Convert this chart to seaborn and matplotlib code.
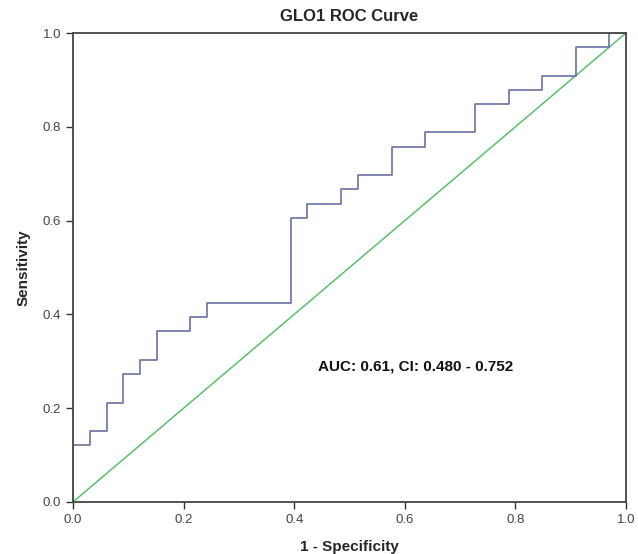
import matplotlib
matplotlib.use("Agg")
import matplotlib.pyplot as plt
import seaborn as sns
import pandas as pd

# ROC step vertices (1 - specificity, sensitivity)
fpr = [0.0, 0.0, 0.030, 0.061, 0.091, 0.121, 0.152, 0.212, 0.242, 0.394, 0.424,
       0.485, 0.515, 0.576, 0.636, 0.727, 0.788, 0.848, 0.909, 0.970, 1.0]
tpr = [0.0, 0.121, 0.152, 0.212, 0.273, 0.303, 0.364, 0.394, 0.424, 0.606, 0.636,
       0.667, 0.697, 0.758, 0.788, 0.848, 0.879, 0.909, 0.970, 1.0, 1.0]
ref_x = [0.0, 1.0]
ref_y = [0.0, 1.0]
ticks = [0.0, 0.2, 0.4, 0.6, 0.8, 1.0]
tick_labels = ["0.0", "0.2", "0.4", "0.6", "0.8", "1.0"]
title = "GLO1 ROC Curve"
auc_text = "AUC: 0.61, CI: 0.480 - 0.752"

sns.set_style("white")
plt.rcParams['font.family'] = ['Liberation Sans', 'DejaVu Sans']

fig = plt.figure(figsize=(6.38, 5.54), dpi=100)
ax = fig.add_axes([0.1144, 0.0939, 0.8668, 0.8465])

roc = pd.DataFrame({"fpr": fpr, "tpr": tpr})
ref = pd.DataFrame({"x": ref_x, "y": ref_y})
sns.lineplot(data=ref, x="x", y="y", ax=ax, color="#5cbf6e", linewidth=1.1,
             sort=False, estimator=None)
sns.lineplot(data=roc, x="fpr", y="tpr", ax=ax, color="#6b70a4", linewidth=1.2,
             sort=False, estimator=None, drawstyle="steps-post")

ax.set_xlim(0, 1)
ax.set_ylim(0, 1)
ax.set_xticks(ticks)
ax.set_xticklabels(tick_labels)
ax.set_yticks(ticks)
ax.set_yticklabels(tick_labels)
ax.tick_params(axis="both", which="both", direction="out", length=5, width=1,
               colors="#333333", labelsize=9.5, labelcolor="#444444",
               bottom=True, left=True, top=False, right=False)
for s in ax.spines.values():
    s.set_visible(True)
    s.set_color("#444444")
    s.set_linewidth(1.3)

ax.set_title(title, fontsize=12, fontweight="bold", pad=9)
ax.set_xlabel("1 - Specificity", fontsize=11, fontweight="bold", labelpad=10)
ax.set_ylabel("Sensitivity", fontsize=11, fontweight="bold", labelpad=9)
ax.text(0.443, 0.288, auc_text, fontsize=11, fontweight="bold",
        va="center", ha="left", color="#111111")

fig.savefig("out.png", dpi=100)
